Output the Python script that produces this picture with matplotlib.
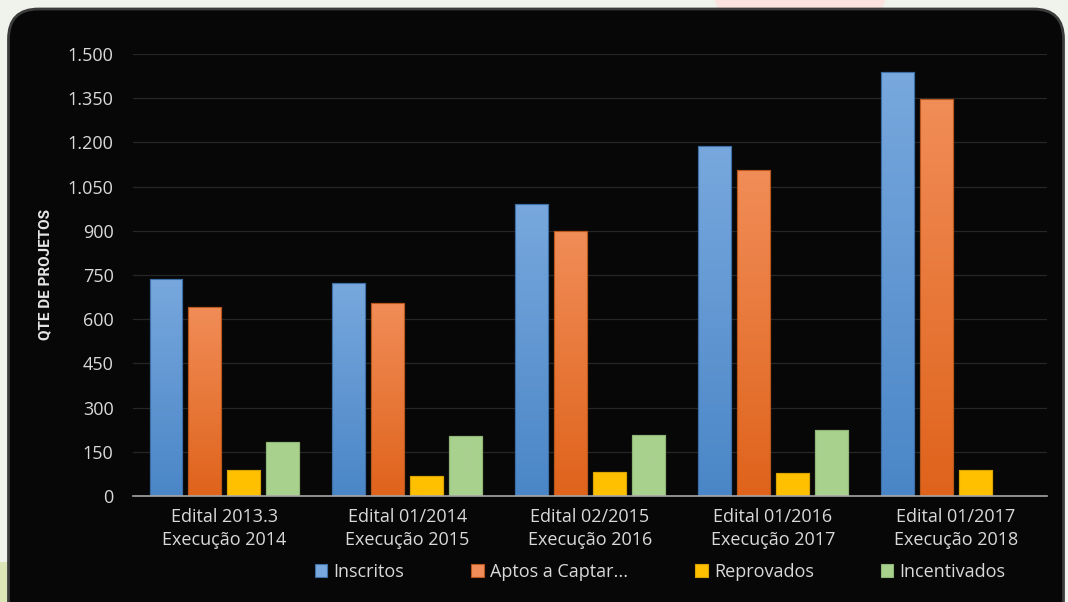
import numpy as np
import matplotlib
matplotlib.use("Agg")
import matplotlib.pyplot as plt
from matplotlib.patches import FancyBboxPatch, Rectangle, Ellipse
from matplotlib.colors import LinearSegmentedColormap

categories = [
    "Edital 2013.3\nExecução 2014",
    "Edital 01/2014\nExecução 2015",
    "Edital 02/2015\nExecução 2016",
    "Edital 01/2016\nExecução 2017",
    "Edital 01/2017\nExecução 2018",
]
series_names = ["Inscritos", "Aptos a Captar...", "Reprovados", "Incentivados"]
inscritos = [738, 724, 990, 1187, 1440]
aptos = [643, 656, 901, 1105, 1348]
reprovados = [87, 68, 82, 78, 87]
incentivados = [184, 204, 207, 223, 0]
yticks = [0, 150, 300, 450, 600, 750, 900, 1050, 1200, 1350, 1500]
ytick_labels = ["0", "150", "300", "450", "600", "750", "900",
                "1.050", "1.200", "1.350", "1.500"]

# top colour, bottom colour, edge colour
colors = [
    ("#78a8dd", "#4a86c7", "#3d6fa6"),
    ("#f18d58", "#df631b", "#b8561c"),
    ("#ffc000", "#ffc000", "#d9a300"),
    ("#a9d18e", "#a9d18e", "#8fb577"),
]

plt.rcParams["font.family"] = ["Open Sans", "DejaVu Sans"]

fig = plt.figure(figsize=(10.68, 6.02), dpi=100)
fig.patch.set_facecolor("#eff3ec")

# background bits outside the panel
fig.patches.append(Ellipse((800 / 1068, 1.0), 170 / 1068, 60 / 602,
                           transform=fig.transFigure, facecolor="#fbe4df",
                           edgecolor="none", zorder=0))
fig.patches.append(Rectangle((0, 0), 30 / 1068, 40 / 602,
                             transform=fig.transFigure, facecolor="#dbe5b5",
                             edgecolor="none", zorder=0))

# black rounded panel
panel = FancyBboxPatch((0.085, -0.3), 10.55, 5.93 + 0.3,
                       boxstyle="round,pad=0,rounding_size=0.3",
                       transform=fig.dpi_scale_trans,
                       facecolor="#070707", edgecolor="#3c3c3c",
                       linewidth=2.0, zorder=1)
fig.patches.append(panel)

ax = fig.add_axes([133 / 1068, 106 / 602, 914 / 1068, 442 / 602])
ax.set_facecolor("none")
ax.set_zorder(2)

data = [inscritos, aptos, reprovados, incentivados]
x = np.arange(len(categories))
step = 0.213
width = 0.18
grad = np.linspace(0, 1, 128).reshape(-1, 1)

for i, (vals, (ctop, cbot, cedge)) in enumerate(zip(data, colors)):
    cmap = LinearSegmentedColormap.from_list("g%d" % i, [cbot, ctop])
    xs = x + (i - 1.5) * step
    bars = ax.bar(xs, vals, width=width, color=ctop, edgecolor=cedge,
                  linewidth=0.8, zorder=3, label=series_names[i])
    for b in bars:
        h = b.get_height()
        if h <= 0:
            continue
        bx = b.get_x()
        im = ax.imshow(grad, extent=[bx - 0.01, bx + width + 0.01, -5, h + 5],
                       origin="lower", cmap=cmap, aspect="auto", zorder=3.5,
                       interpolation="bilinear")
        im.set_clip_path(b)
        ax.add_patch(Rectangle((bx, 0), width, h, facecolor="none",
                               edgecolor=cedge, linewidth=0.8, zorder=4))

ax.set_xlim(-0.5, len(categories) - 0.5)
ax.set_ylim(0, 1500)
ax.set_yticks(yticks)
ax.set_yticklabels(ytick_labels)
ax.set_xticks(x)
ax.set_xticklabels(categories, linespacing=1.35)
ax.grid(axis="y", color="#262626", linewidth=0.9, zorder=0)
ax.set_axisbelow(True)
for s in ["top", "right", "left"]:
    ax.spines[s].set_visible(False)
ax.spines["bottom"].set_color("#a6a6a6")
ax.spines["bottom"].set_linewidth(1.2)
ax.spines["bottom"].set_zorder(5)
ax.tick_params(axis="both", length=0, colors="#d9d9d9", labelsize=13)
ax.tick_params(axis="y", pad=14)
ax.tick_params(axis="x", pad=9)

fig.text(45 / 1068, 1 - 274 / 602, "QTE DE PROJETOS", rotation=90,
         ha="center", va="center", color="#e6e6e6", fontsize=11,
         fontweight="bold", family=["Roboto", "DejaVu Sans"])

leg = ax.legend(loc="center", bbox_to_anchor=(660 / 1068, 1 - 572 / 602),
                bbox_transform=fig.transFigure, ncol=4, frameon=False,
                fontsize=13, handlelength=0.7, handleheight=0.7,
                handletextpad=0.35, columnspacing=3.7)
for t in leg.get_texts():
    t.set_color("#d9d9d9")

fig.savefig("out.png", dpi=100, facecolor=fig.get_facecolor())
